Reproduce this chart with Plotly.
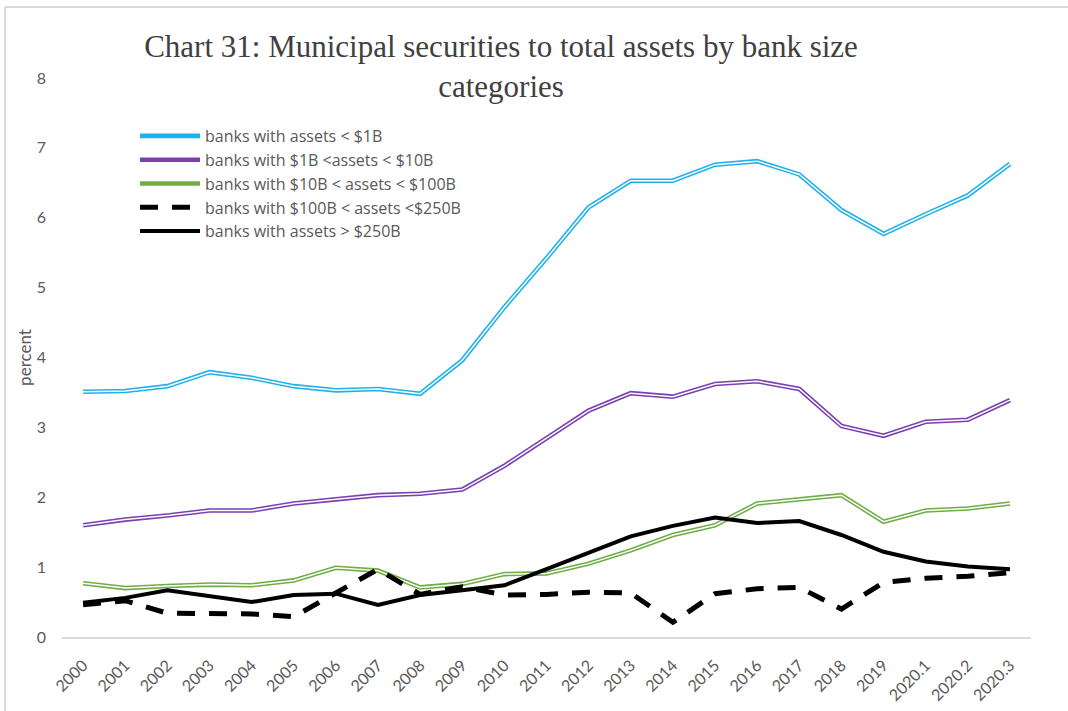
import plotly.graph_objects as go

categories = ["2000", "2001", "2002", "2003", "2004", "2005", "2006", "2007", "2008", "2009",
              "2010", "2011", "2012", "2013", "2014", "2015", "2016", "2017", "2018", "2019",
              "2020.1", "2020.2", "2020.3"]

lt_1b = [3.51, 3.52, 3.59, 3.79, 3.71, 3.59, 3.53, 3.55, 3.48, 3.96, 4.72, 5.42, 6.15,
         6.53, 6.53, 6.76, 6.81, 6.62, 6.11, 5.77, 6.05, 6.32, 6.77]
b1_10 = [1.60, 1.68, 1.74, 1.81, 1.81, 1.91, 1.97, 2.03, 2.05, 2.11, 2.45, 2.85, 3.24,
         3.49, 3.44, 3.62, 3.66, 3.55, 3.02, 2.88, 3.08, 3.11, 3.39]
b10_100 = [0.77, 0.70, 0.73, 0.75, 0.74, 0.81, 0.99, 0.95, 0.71, 0.76, 0.90, 0.91, 1.05,
           1.24, 1.46, 1.60, 1.91, 1.97, 2.03, 1.65, 1.81, 1.84, 1.91]
b100_250 = [0.46, 0.52, 0.34, 0.33, 0.33, 0.29, 0.63, 0.97, 0.61, 0.72, 0.60, 0.61, 0.64,
            0.63, 0.21, 0.62, 0.69, 0.71, 0.40, 0.78, 0.84, 0.87, 0.92]
gt_250b = [0.49, 0.56, 0.67, 0.59, 0.50, 0.60, 0.62, 0.46, 0.60, 0.67, 0.74, 0.97, 1.20,
           1.44, 1.59, 1.71, 1.63, 1.66, 1.46, 1.22, 1.08, 1.01, 0.97]

series_names = ["banks with assets < $1B",
                "banks with $1B <assets < $10B",
                "banks with $10B < assets < $100B",
                "banks with $100B < assets <$250B",
                "banks with assets > $250B"]

title_text = "Chart 31: Municipal securities to total assets by bank size<br>categories"
y_title = "percent"

GRAY = "#595959"
SANS = "Lato, 'Open Sans', sans-serif"

fig = go.Figure()

double_series = [(lt_1b, "#1FB1EA"), (b1_10, "#7A3FB0"), (b10_100, "#70AD47")]
for i, (vals, col) in enumerate(double_series):
    fig.add_trace(go.Scatter(x=categories, y=vals, mode="lines", name=series_names[i],
                             line=dict(color=col, width=4.6), legendgroup=f"g{i}",
                             hoverinfo="skip"))
    fig.add_trace(go.Scatter(x=categories, y=vals, mode="lines", name=series_names[i],
                             line=dict(color="white", width=1.5), legendgroup=f"g{i}",
                             showlegend=False, hoverinfo="skip"))

fig.add_trace(go.Scatter(x=categories, y=b100_250, mode="lines", name=series_names[3],
                         line=dict(color="black", width=5, dash="18px,14px")))
fig.add_trace(go.Scatter(x=categories, y=gt_250b, mode="lines", name=series_names[4],
                         line=dict(color="black", width=4)))

L, R, T, B = 62, 37, 78, 74
W, H = 1068, 711
pw, ph = W - L - R, H - T - B

fig.update_layout(
    width=W, height=H,
    margin=dict(l=L, r=R, t=T, b=B, autoexpand=False),
    paper_bgcolor="white", plot_bgcolor="white",
    title=dict(text=title_text, x=501 / W, xanchor="center", xref="container",
               y=1 - 57 / H, yanchor="top", yref="container",
               font=dict(family="'Liberation Serif', 'Times New Roman', serif", size=31,
                         color="#404040")),
    showlegend=True,
    legend=dict(x=(135 - L) / pw, xanchor="left", y=1 - (119 - T) / ph, yanchor="top",
                font=dict(family="'Open Sans', sans-serif", size=16, color=GRAY),
                bgcolor="rgba(0,0,0,0)", itemwidth=60, tracegroupgap=0),
    xaxis=dict(type="category", range=[-0.5, 22.5], showgrid=False, zeroline=False,
               showline=True, linecolor="#d9d9d9", linewidth=1.5, ticks="",
               tickangle=-45, tickfont=dict(family=SANS, size=16, color=GRAY),
               ticklabelstandoff=11, automargin=False),
    yaxis=dict(range=[0, 8], dtick=1, showgrid=False, zeroline=False, showline=False,
               ticks="", tickfont=dict(family=SANS, size=16, color=GRAY),
               ticklabelstandoff=15, automargin=False,
               title=dict(text=y_title, font=dict(family=SANS, size=17, color=GRAY),
                          standoff=0)),
    shapes=[
        dict(type="line", xref="paper", yref="paper", x0=(5 - L) / pw, x1=(W + 5 - L) / pw,
             y0=(H - B - 7) / ph, y1=(H - B - 7) / ph, line=dict(color="#d9d9d9", width=2)),
        dict(type="line", xref="paper", yref="paper", x0=(5 - L) / pw, x1=(5 - L) / pw,
             y0=(H - B - 7) / ph, y1=-(B + 5) / ph, line=dict(color="#d9d9d9", width=2)),
    ],
)

fig.write_html("out.html", post_script="document.body.style.margin='0';",
               config={"displayModeBar": False})
